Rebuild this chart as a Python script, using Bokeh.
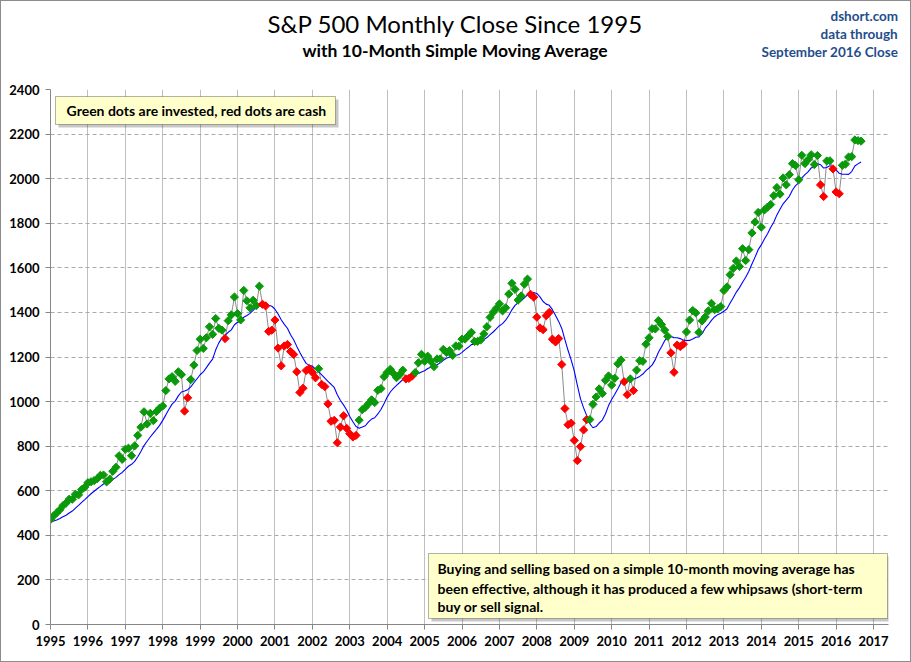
import numpy as np
import pandas as pd
from bokeh.plotting import figure
from bokeh.layouts import column, row
from bokeh.models import Range1d, FixedTicker, BoxAnnotation, Label, ColumnDataSource
from bokeh.embed import file_html
from bokeh.resources import INLINE

# Apr-Dec 1994 closes (lead-in for the first 10-month averages)
lead_1994 = [450.91, 456.50, 444.27, 458.26, 475.49, 462.69, 472.35, 453.69, 459.27]

c1995 = [470.42, 487.39, 500.71, 514.71, 533.40, 544.75, 562.06, 561.88, 584.41, 581.50, 605.37, 615.93]
c1996 = [636.02, 640.43, 645.50, 654.17, 669.12, 670.63, 639.95, 651.99, 687.31, 705.27, 757.02, 740.74]
c1997 = [786.16, 790.82, 757.12, 801.34, 848.28, 885.14, 954.29, 899.47, 947.28, 914.62, 955.40, 970.43]
c1998 = [980.28, 1049.34, 1101.75, 1111.75, 1090.82, 1133.84, 1120.67, 957.28, 1017.01, 1098.67, 1163.63, 1229.23]
c1999 = [1279.64, 1238.33, 1286.37, 1335.18, 1301.84, 1372.71, 1328.72, 1320.41, 1282.71, 1362.93, 1388.91, 1469.25]
c2000 = [1394.46, 1366.42, 1498.58, 1452.43, 1420.60, 1454.60, 1430.83, 1517.68, 1436.51, 1429.40, 1314.95, 1320.28]
c2001 = [1366.01, 1239.94, 1160.33, 1249.46, 1255.82, 1224.38, 1211.23, 1133.58, 1040.94, 1059.78, 1139.45, 1148.08]
c2002 = [1130.20, 1106.73, 1147.39, 1076.92, 1067.14, 989.82, 911.62, 916.07, 815.28, 885.76, 936.31, 879.82]
c2003 = [855.70, 841.15, 848.18, 916.92, 963.59, 974.50, 990.31, 1008.01, 995.97, 1050.71, 1058.20, 1111.92]
c2004 = [1131.13, 1144.94, 1126.21, 1107.30, 1120.68, 1140.84, 1101.72, 1104.24, 1114.58, 1130.20, 1173.82, 1211.92]
c2005 = [1181.27, 1203.60, 1180.59, 1156.85, 1191.50, 1191.33, 1234.18, 1220.33, 1228.81, 1207.01, 1249.48, 1248.29]
c2006 = [1280.08, 1280.66, 1294.87, 1310.61, 1270.09, 1270.20, 1276.66, 1303.82, 1335.85, 1377.94, 1400.63, 1418.30]
c2007 = [1438.24, 1406.82, 1420.86, 1482.37, 1530.62, 1503.35, 1455.27, 1473.99, 1526.75, 1549.38, 1481.14, 1468.36]
c2008 = [1378.55, 1330.63, 1322.70, 1385.59, 1400.38, 1280.00, 1267.38, 1282.83, 1166.36, 968.75, 896.24, 903.25]
c2009 = [825.88, 735.09, 797.87, 872.81, 919.14, 919.32, 987.48, 1020.62, 1057.08, 1036.19, 1095.63, 1115.10]
c2010 = [1073.87, 1104.49, 1169.43, 1186.69, 1089.41, 1030.71, 1101.60, 1049.33, 1141.20, 1183.26, 1180.55, 1257.64]
c2011 = [1286.12, 1327.22, 1325.83, 1363.61, 1345.20, 1320.64, 1292.28, 1218.89, 1131.42, 1253.30, 1246.96, 1257.60]
c2012 = [1312.41, 1365.68, 1408.47, 1397.91, 1310.33, 1362.16, 1379.32, 1406.58, 1440.67, 1412.16, 1416.18, 1426.19]
c2013 = [1498.11, 1514.68, 1569.19, 1597.57, 1630.74, 1606.28, 1685.73, 1632.97, 1681.55, 1756.54, 1805.81, 1848.36]
c2014 = [1782.59, 1859.45, 1872.34, 1883.95, 1923.57, 1960.23, 1930.67, 2003.37, 1972.29, 2018.05, 2067.56, 2058.90]
c2015 = [1994.99, 2104.50, 2067.89, 2085.51, 2107.39, 2063.11, 2103.84, 1972.18, 1920.03, 2079.36, 2080.41, 2043.94]
c2016 = [1940.24, 1932.23, 2059.74, 2065.30, 2096.95, 2098.86, 2173.60, 2170.95, 2168.27]

year_lists = [c1995, c1996, c1997, c1998, c1999, c2000, c2001, c2002, c2003, c2004, c2005,
              c2006, c2007, c2008, c2009, c2010, c2011, c2012, c2013, c2014, c2015, c2016]
first_year = 1995
tick_years = list(range(1995, 2018))
y_ticks = list(range(0, 2401, 200))

title_text = "S&P 500 Monthly Close Since 1995"
subtitle_text = "with 10-Month Simple Moving Average"
source_lines = ["dshort.com", "data through", "September 2016 Close"]
note1 = "Green dots are invested, red dots are cash"
note2_lines = ["Buying and selling based on a simple 10-month moving average has",
               "been effective, although it has produced a few whipsaws (short-term",
               "buy or sell signal."]

# ---- derived table ----
xs, closes = [], []
for i, yl in enumerate(year_lists):
    for m, v in enumerate(yl):
        xs.append(first_year + i + m / 12.0)
        closes.append(v)
full = pd.Series(lead_1994 + closes)
sma = full.rolling(10).mean().iloc[len(lead_1994):].to_numpy()
closes = np.array(closes)
GREEN = "#0A990A"
RED = "#FF0000"
colors = np.where(closes >= sma, GREEN, RED)
src = ColumnDataSource(dict(x=xs, close=closes, sma=sma, color=colors))

FONT = "Lato"
W = 909

# ---------------- header strip ----------------
hdr = figure(width=W, height=81, output_backend="svg", toolbar_location=None,
             x_range=Range1d(0, W), y_range=Range1d(81, 0),
             x_axis_type=None, y_axis_type=None,
             min_border_left=0, min_border_right=0, min_border_top=0, min_border_bottom=0)
hdr.outline_line_color = None
hdr.xgrid.visible = False
hdr.ygrid.visible = False
hdr.background_fill_color = "white"
hdr.border_fill_color = "white"
hdr.add_layout(Label(x=266, y=21.5, text=title_text, text_font=FONT, text_font_size="24px",
                     text_align="left", text_baseline="middle", text_color="#000000"))
hdr.add_layout(Label(x=301, y=49, text=subtitle_text, text_font=FONT, text_font_style="bold",
                     text_font_size="17.5px", text_align="left", text_baseline="middle",
                     text_color="#000000"))
for k, t in enumerate(source_lines):
    hdr.add_layout(Label(x=[829, 819, 760][k], y=[14, 32, 50][k], text=t, text_font=FONT,
                         text_font_style="bold", text_font_size="13.5px",
                         text_align="left", text_baseline="middle", text_color="#1F4E8C"))

# ---------------- main chart ----------------
p = figure(width=W, height=579, output_backend="svg", toolbar_location=None,
           x_range=Range1d(1995, 2017.4), y_range=Range1d(0, 2400),
           min_border_left=49, min_border_right=22, min_border_top=7, min_border_bottom=37)
p.outline_line_color = None
p.background_fill_color = "white"
p.border_fill_color = "white"

p.xaxis.ticker = FixedTicker(ticks=tick_years)
p.yaxis.ticker = FixedTicker(ticks=y_ticks)
p.xgrid.ticker = FixedTicker(ticks=tick_years)
p.xgrid.grid_line_color = "#BFBFBF"
p.xgrid.grid_line_width = 1
p.ygrid.grid_line_color = "#AAAAAA"
p.ygrid.grid_line_dash = "4 3"
p.ygrid.grid_line_width = 1
for ax in (p.xaxis, p.yaxis):
    ax.axis_line_color = "#868686"
    ax.major_tick_line_color = "#868686"
    ax.major_tick_out = 5
    ax.major_tick_in = 0
    ax.minor_tick_line_color = None
    ax.major_label_text_font = FONT
    ax.major_label_text_font_style = "bold"
    ax.major_label_text_font_size = "13px"
    ax.major_label_text_color = "#000000"
p.xaxis.major_label_standoff = 6
p.yaxis.major_label_standoff = 6

# connecting line, SMA, markers
p.line("x", "close", source=src, line_color="#8C8C8C", line_width=1)
p.line("x", "sma", source=src, line_color="#0000FF", line_width=1.1)
p.scatter("x", "close", source=src, marker="square", angle=np.pi / 4, size=5.8,
          fill_color="color", line_color="color", line_width=1)

# note boxes (with shadow)
p.add_layout(BoxAnnotation(left=1995.214, right=2002.698, top=2355, bottom=2229.5,
                           fill_color="#000000", fill_alpha=0.22, line_color=None))
p.add_layout(BoxAnnotation(left=1995.134, right=2002.618, top=2368.6, bottom=2243.0,
                           fill_color="#FFFFCC", fill_alpha=1, line_color="#000000", line_width=1))
p.add_layout(Label(x=1995.43, y=2305.8, text=note1, text_font=FONT, text_font_style="bold",
                   text_font_size="14px", text_baseline="middle", text_color="#000000"))

p.add_layout(BoxAnnotation(left=2005.184, right=2017.45, top=305, bottom=13.5,
                           fill_color="#000000", fill_alpha=0.22, line_color=None))
p.add_layout(BoxAnnotation(left=2005.104, right=2017.374, top=318.5, bottom=26.9,
                           fill_color="#FFFFCC", fill_alpha=1, line_color="#000000", line_width=1))
for k, t in enumerate(note2_lines):
    p.add_layout(Label(x=2005.345, y=[251.2, 163.0, 82.0][k], text=t, text_font=FONT,
                       text_font_style="bold", text_font_size="14px",
                       text_baseline="middle", text_color="#000000"))

page = column(row(hdr), p, spacing=0, styles={"border": "1px solid #8C8C8C"})
open("out.html", "w").write(file_html(page, INLINE))
